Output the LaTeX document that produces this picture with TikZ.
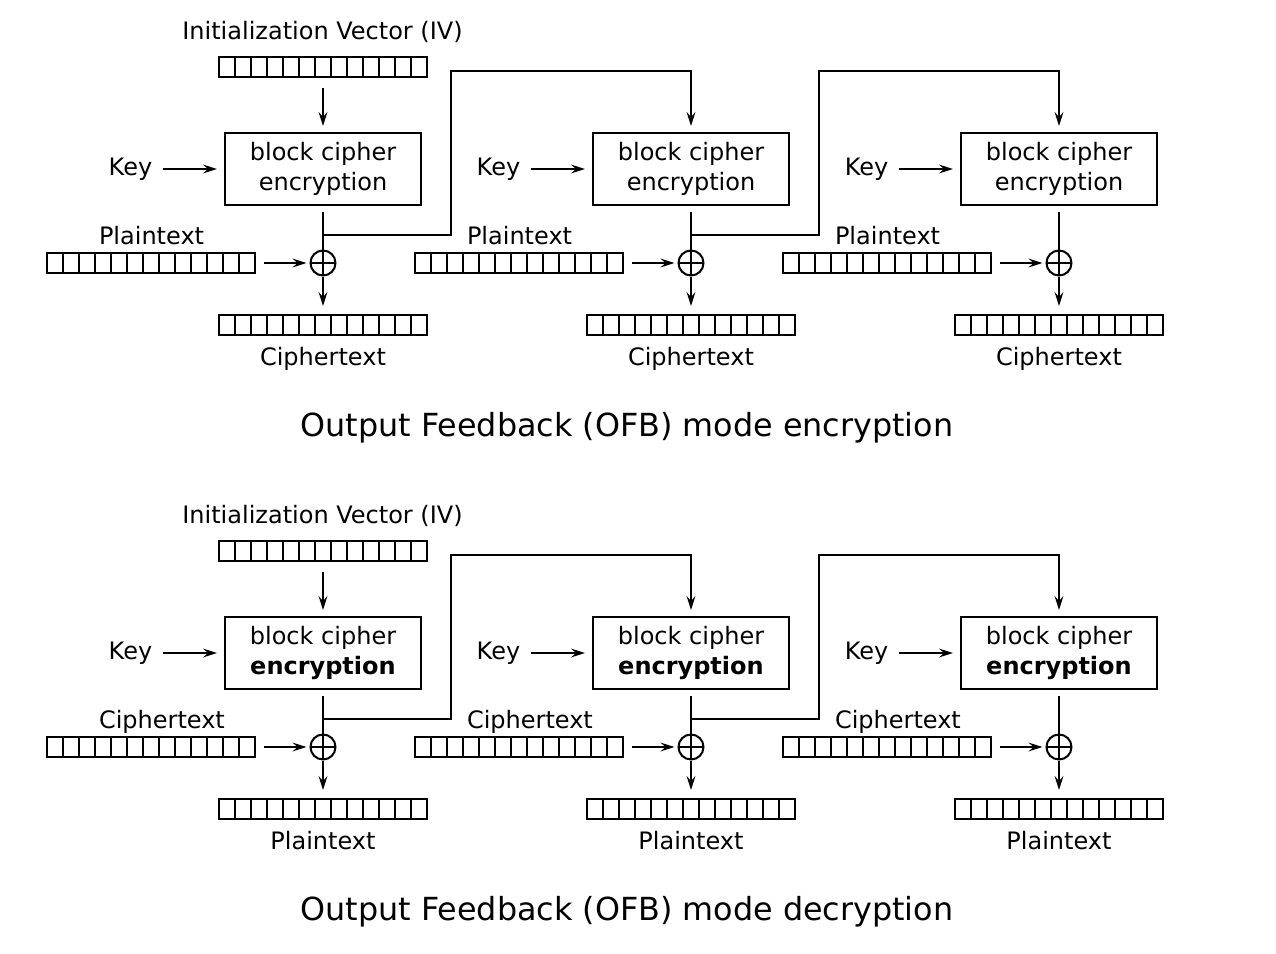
\documentclass[tikz,border=0pt]{standalone}
\usepackage{fontspec}
\setmainfont{DejaVu Sans}
\usetikzlibrary{arrows.meta}
\tikzset{
  lbl/.style={inner sep=0pt, font=\fontsize{12}{15}\selectfont},
  ttl/.style={inner sep=0pt, font=\fontsize{15.9}{19}\selectfont},
  reg/.style={draw, rectangle, minimum width=104pt, minimum height=10pt, inner sep=0pt,
    path picture={\foreach \i in {1,...,12}{\draw ([xshift=\i*8pt]path picture bounding box.south west) -- ([xshift=\i*8pt]path picture bounding box.north west);}}},
  cipher/.style={draw, rectangle, minimum width=98pt, minimum height=36pt, inner sep=0pt, align=center, font=\fontsize{12}{15}\selectfont},
  xor/.style={draw, circle, minimum size=12.5pt, inner sep=0pt,
    path picture={\draw (path picture bounding box.north) -- (path picture bounding box.south) (path picture bounding box.west) -- (path picture bounding box.east);}},
  arr/.style={-{Stealth[length=7pt,width=4.4pt,inset=2.6pt]}},
}
\newcommand{\ofbhalf}[6]{%
  \begin{scope}[shift={(0,#2)}]
    \node[lbl, anchor=base] (iv#1) at (322.5,39.5) {Initialization Vector (IV)};
    \node[reg] (ivr#1) at (323,67) {};
    \foreach \c/\dx in {1/0,2/368,3/736}{
      \begin{scope}[shift={(\dx,0)}]
        \node[cipher] (box#1\c) at (323,169) {block cipher\\#5};
        \node[lbl] (key#1\c) at (130.5,169) {Key};
        \node[xor] (xor#1\c) at (323,263) {};
        \node[reg] (in#1\c) at (151,263) {};
        \node[lbl, anchor=base west] (inl#1\c) at (98,244) {#3};
        \node[reg] (out#1\c) at (323,325) {};
        \node[lbl, anchor=base] (outl#1\c) at (323,365.5) {#4};
        \coordinate (br#1\c) at (323,235);
        \coordinate (tp#1\c) at (451,71);
      \end{scope}
      \draw[arr, shorten <=5pt, shorten >=3.5pt] (key#1\c) -- (box#1\c);
      \draw[shorten <=3pt] (box#1\c) -- (xor#1\c);
      \draw[arr, shorten >=4pt] (xor#1\c) -- (out#1\c);
      \draw[arr, shorten <=4pt, shorten >=1.5pt] (in#1\c) -- (xor#1\c);
    }
    \draw[arr, shorten <=5pt, shorten >=3pt] (ivr#1) -- (box#11);
    \draw[arr, shorten >=3pt] (br#11) -| (tp#11) -| (box#12);
    \draw[arr, shorten >=3pt] (br#12) -| (tp#12) -| (box#13);
    \node[ttl, anchor=base] (title#1) at (627,436) {Output Feedback (OFB) mode #6};
  \end{scope}
}
\begin{document}
\begin{tikzpicture}[x=0.5pt, y=-0.5pt, line width=1pt]
  \useasboundingbox (0,0) rectangle (1276,954);
  \fill[white] (0,0) rectangle (1276,954);
  \ofbhalf{e}{0}{Plaintext}{Ciphertext}{encryption}{encryption}
  \ofbhalf{d}{484}{Ciphertext}{Plaintext}{\textbf{encryption}}{decryption}
\end{tikzpicture}
\end{document}
